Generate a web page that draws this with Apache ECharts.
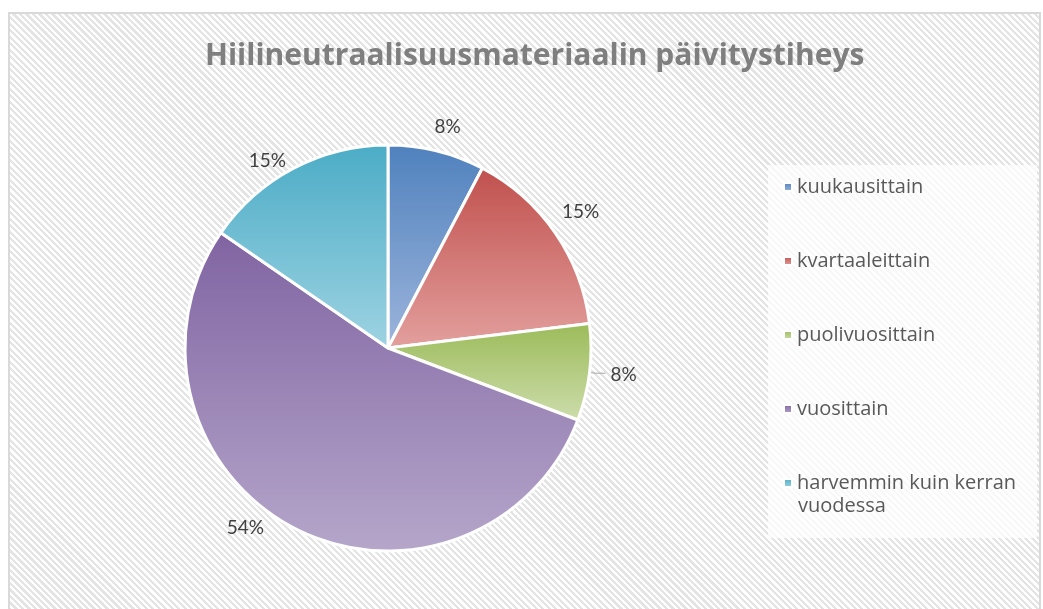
<!DOCTYPE html>
<html>
<head>
<meta charset="utf-8">
<script src="https://cdn.jsdelivr.net/npm/echarts@6/dist/echarts.min.js"></script>
<style>
  html, body { margin: 0; padding: 0; background: #fff; }
  #frame {
    position: absolute; left: 8px; top: 12px; width: 1029px; height: 600px;
    border: 2px solid #d9d9d9; border-bottom: none;
    background: repeating-linear-gradient(45deg, #ffffff 0px, #ffffff 2.4px, #e4e4e4 2.4px, #e4e4e4 4.6px);
  }
  #main { position: absolute; left: 0; top: 0; width: 1043px; height: 609px; }
</style>
</head>
<body>
<div id="frame"></div>
<div id="main"></div>
<script>
var titleText = 'Hiilineutraalisuusmateriaalin päivitystiheys';
var categories = ['kuukausittain', 'kvartaaleittain', 'puolivuosittain', 'vuosittain', 'harvemmin kuin kerran vuodessa'];
var counts = [1, 2, 1, 7, 2];
var topColors = ['#4F81BD', '#C0504D', '#9BBB59', '#8064A2', '#4BACC6'];
var bottomColors = ['#9DB5DC', '#E3A09E', '#CDDDAC', '#B5A6CA', '#9ED3E2'];

// nudges so the % labels sit where Excel put them
var labelNudge = [[-10, -12], [-8, -14], [0, 2], [-19, -10], [3, 3]];

var myChart = echarts.init(document.getElementById('main'));

var pieData = [];
for (var i = 0; i < categories.length; i++) {
    var item = {
        name: categories[i],
        value: counts[i],
        itemStyle: {
            color: new echarts.graphic.LinearGradient(0, 0, 0, 1, [
                { offset: 0, color: topColors[i] },
                { offset: 1, color: bottomColors[i] }
            ])
        },
        labelLine: { show: false, length: 12, length2: 0 }
    };
    if (i == 2) {
        // the small green slice gets a leader line
        item.labelLine = { show: true, length: 6, length2: 10, lineStyle: { color: '#a6a6a6', width: 1 } };
    }
    pieData.push(item);
}

var legendFont = 'Open Sans';

option = {
    backgroundColor: 'transparent',
    title: {
        text: titleText,
        left: 200,
        top: 36,
        textStyle: {
            fontFamily: 'Open Sans',
            fontSize: 30,
            fontWeight: 'bold',
            color: '#7f7f7f'
        }
    },
    legend: {
        orient: 'vertical',
        left: 768,
        top: 165,
        padding: [11, 21, 44, 15],
        backgroundColor: 'rgba(255,255,255,0.72)',
        itemWidth: 8,
        itemHeight: 8,
        itemGap: 52,
        icon: 'rect',
        data: categories,
        formatter: function (name) {
            return name == 'harvemmin kuin kerran vuodessa' ? 'harvemmin kuin kerran' : name;
        },
        textStyle: {
            fontFamily: legendFont,
            fontSize: 20,
            color: '#595959',
            lineHeight: 22
        }
    },
    graphic: [{
        type: 'text',
        left: 798,
        top: 496,
        z: 100,
        style: {
            text: 'vuodessa',
            font: '20px "' + legendFont + '"',
            fill: '#595959'
        }
    }],
    series: [{
        type: 'pie',
        center: [388, 348],
        radius: 203,
        startAngle: 90,
        clockwise: true,
        avoidLabelOverlap: false,
        itemStyle: {
            borderColor: '#ffffff',
            borderWidth: 3
        },
        label: {
            show: true,
            position: 'outside',
            formatter: function (p) { return Math.round(p.percent) + '%'; },
            fontFamily: 'Lato',
            fontSize: 19,
            color: '#404040'
        },
        labelLayout: function (params) {
            var n = labelNudge[params.dataIndex];
            return { dx: n[0], dy: n[1] };
        },
        emphasis: { disabled: true },
        data: pieData
    }]
};

myChart.setOption(option);
</script>
</body>
</html>
